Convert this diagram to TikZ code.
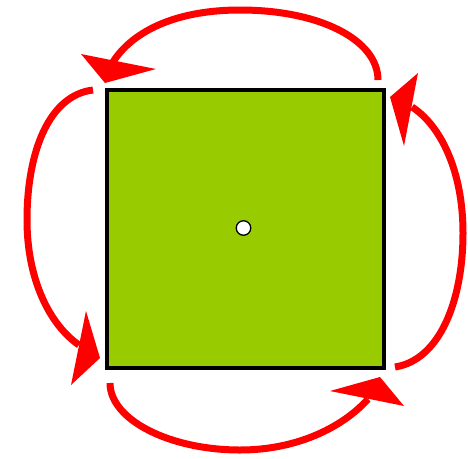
\documentclass[tikz,border=0pt]{standalone}
\definecolor{leaf}{RGB}{153,204,0}
\begin{document}
\begin{tikzpicture}[x=1pt,y=-1pt,
  arc/.style={draw=red, line width=7pt},
  head/.style={fill=red},
  box/.style={draw=black, line width=3.5pt, fill=leaf, inner sep=0pt,
              minimum width=277pt, minimum height=278pt, anchor=north west},
  pin/.style={circle, draw=black, line width=1.3pt, fill=white, inner sep=0pt, minimum size=14.5pt}]
\useasboundingbox (0,0) rectangle (468,458);
\node[box] (sq) at (105,88) {};
\node[pin] (dot) at (243.5,228) {};
% connector end points
\coordinate (tS) at (378,80);  \coordinate (tE) at (113,62);
\coordinate (rS) at (395,367); \coordinate (rE) at (412,107);
\coordinate (bS) at (110,383); \coordinate (bE) at (368,399);
\coordinate (lS) at (93,90);   \coordinate (lE) at (79,345);
% top
\draw[arc] (tS) .. controls (378,40) and (320,10) .. (240,10)
                .. controls (170,10) and (130,35) .. (tE);
\fill[head] (105,83) -- (81,54) -- (156,69) -- cycle;
% right
\draw[arc] (rS) .. controls (440,360) and (463,300) .. (463,233)
                .. controls (463,170) and (440,125) .. (rE);
\fill[head] (390,97) -- (418,73) -- (404,146) -- cycle;
% bottom
\draw[arc] (bS) .. controls (110,420) and (170,450) .. (240,450)
                .. controls (300,450) and (345,425) .. (bE);
\fill[head] (380,377) -- (330,391) -- (404,406) -- cycle;
% left
\draw[arc] (lS) .. controls (50,95) and (27,150) .. (27,220)
                .. controls (27,280) and (50,325) .. (lE);
\fill[head] (100,358) -- (86,311) -- (71,385) -- cycle;
\end{tikzpicture}
\end{document}
